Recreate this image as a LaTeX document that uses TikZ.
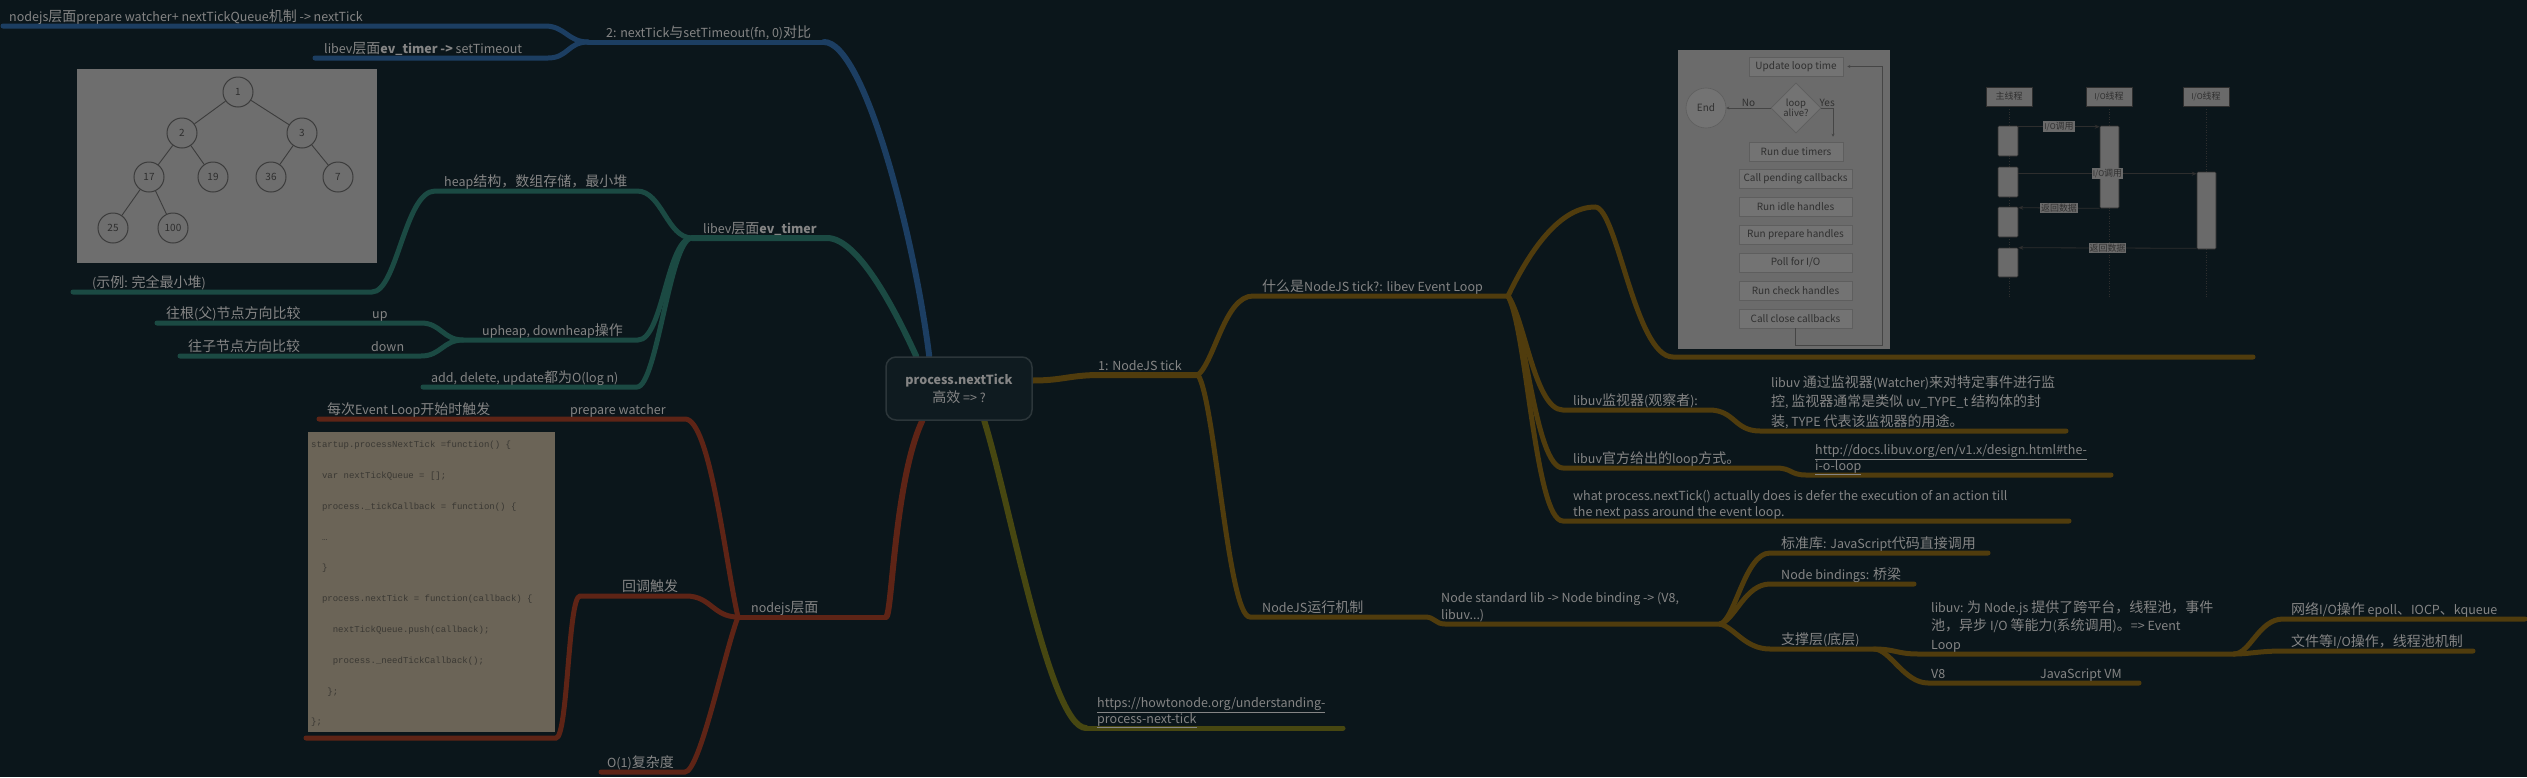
\documentclass[tikz,border=0pt]{standalone}
\usepackage{fontspec}
\setmainfont{Noto Sans CJK SC}
\newfontfamily\latfam{Noto Sans CJK SC}
\newfontfamily\cjkfam{Noto Sans CJK SC}[Scale=1.12]
\newfontfamily\codefont{Liberation Mono}
\usepackage{xcolor}
\usepackage{tikz}
\usetikzlibrary{arrows.meta,shapes.geometric,backgrounds}

% CJK glyphs a little larger than the Latin ones
\XeTeXinterchartokenstate=1
\newXeTeXintercharclass\cjkcls
\newcount\cjkcnt
\cjkcnt="4E00
\loop \XeTeXcharclass\cjkcnt=\cjkcls \ifnum\cjkcnt<"9FFF \advance\cjkcnt by 1 \repeat
\cjkcnt="3000
\loop \XeTeXcharclass\cjkcnt=\cjkcls \ifnum\cjkcnt<"303F \advance\cjkcnt by 1 \repeat
\cjkcnt="FF00
\loop \XeTeXcharclass\cjkcnt=\cjkcls \ifnum\cjkcnt<"FF5E \advance\cjkcnt by 1 \repeat
\XeTeXinterchartoks 0 \cjkcls = {\cjkfam}
\XeTeXinterchartoks \cjkcls 0 = {\latfam}
\XeTeXinterchartoks 4095 \cjkcls = {\cjkfam}
\XeTeXinterchartoks \cjkcls 4095 = {\latfam}

\definecolor{bgc}{HTML}{0B161B}
\definecolor{txtc}{HTML}{858585}
\definecolor{bluc}{HTML}{1C3E62}
\definecolor{teac}{HTML}{1B4A43}
\definecolor{gldc}{HTML}{503C0D}
\definecolor{redc}{HTML}{5E2416}
\definecolor{olvc}{HTML}{474711}
\definecolor{rootbg}{HTML}{0F1B20}
\definecolor{rootln}{HTML}{2C363A}
\definecolor{treebg}{HTML}{6E6E6E}
\definecolor{treeln}{HTML}{3C3C3C}
\definecolor{treetx}{HTML}{2E2E2E}
\definecolor{codebg}{HTML}{6B6457}
\definecolor{codetx}{HTML}{3A3833}
\definecolor{fcbg}{HTML}{6B6B6B}
\definecolor{fcfill}{HTML}{737373}
\definecolor{fcedge}{HTML}{5E5E5E}
\definecolor{fctx}{HTML}{303030}
\definecolor{fcln}{HTML}{454545}
\definecolor{sqfill}{HTML}{6A6A6A}
\definecolor{sqln}{HTML}{2E2E2E}

\begin{document}
\begin{tikzpicture}[x=1pt, y=-1pt,
  font=\fontsize{12.5}{16}\selectfont,
  topic/.style={anchor=south west, inner xsep=0pt, inner ysep=1.5pt, text depth=3pt,
                text=txtc, align=left},
  br/.style={line width=5pt, line cap=round},
  trunk/.style={line width=6pt, line cap=round},
  root/.style={rounded corners=10pt, draw=rootln, line width=1.5pt, fill=rootbg,
               minimum width=146pt, minimum height=63pt, align=center, text=txtc,
               font=\fontsize{12.5}{18}\selectfont},
  panel/.style={inner sep=0pt, draw=none},
  hnode/.style={circle, minimum size=30pt, inner sep=0pt, fill=treebg, draw=treeln,
                line width=1pt, text=treetx, font=\fontsize{10}{11}\selectfont},
  fcbox/.style={fill=fcfill, draw=fcedge, line width=0.6pt, minimum height=19pt,
                inner sep=0pt, text=fctx, font=\fontsize{10}{11}\selectfont},
  fclbl/.style={text=fctx, inner sep=1pt, font=\fontsize{10}{11}\selectfont},
  fclink/.style={draw=fcln, line width=0.7pt, -{Stealth[length=3pt,width=3pt]}},
  sqhead/.style={fill=sqfill, draw=sqln, line width=0.6pt, minimum width=46pt,
                 minimum height=19pt, inner sep=0pt, text=fctx,
                 font=\fontsize{8}{9}\selectfont},
  sqact/.style={fill=sqfill, draw=sqln, line width=0.6pt, minimum width=20pt,
                inner sep=0pt, rounded corners=1pt},
  sqmsg/.style={draw=sqln, line width=0.8pt, -{Stealth[length=5pt,width=4pt]}},
  sqlbl/.style={fill=sqfill, inner sep=1pt, text=fctx, font=\fontsize{8}{9}\selectfont},
  life/.style={draw=sqln, line width=0.6pt, dotted}
]
\useasboundingbox (0,0) rectangle (2527,777);

% centre
\node[root] (root) at (959,388.5) {\textbf{process.nextTick}\\高效 => ?};

% line ends
\coordinate (nxtA) at (3,26);    \coordinate (nxtB) at (545,26);
\coordinate (ltmA) at (315,58);  \coordinate (ltmB) at (548,58);
\coordinate (cmpA) at (588,42);  \coordinate (cmpB) at (824,42);
\coordinate (trA) at (73,292);   \coordinate (trB) at (372,292);
\coordinate (heapA) at (435,191); \coordinate (heapB) at (637,191);
\coordinate (upA) at (157,323);  \coordinate (upB) at (421,323);
\coordinate (dnA) at (180,356);  \coordinate (dnB) at (421,356);
\coordinate (opA) at (463,340);  \coordinate (opB) at (638,340);
\coordinate (adA) at (423,387);  \coordinate (adB) at (637,387);
\coordinate (evA) at (692,238);  \coordinate (evB) at (827,238);
\coordinate (evlA) at (319,419); \coordinate (pwB) at (685,419);
\coordinate (cbA) at (580,596);  \coordinate (cbB) at (686,596);
\coordinate (cdA) at (306,738);  \coordinate (cdB) at (556,738);
\coordinate (o1A) at (601,772);  \coordinate (o1B) at (685,772);
\coordinate (njA) at (738,617);  \coordinate (njB) at (886,617);
\coordinate (urA) at (1086,728); \coordinate (urB) at (1343,728);
\coordinate (tkA) at (1100,375); \coordinate (tkB) at (1198,375);
\coordinate (whA) at (1253,296); \coordinate (whB) at (1508,296);
\coordinate (hump) at (1595,207);
\coordinate (imgA) at (1673,357); \coordinate (imgB) at (2253,357);
\coordinate (wtA) at (1563,410); \coordinate (wtB) at (1709,410);
\coordinate (wdA) at (1760,431); \coordinate (wdB) at (2066,431);
\coordinate (lpA) at (1563,468); \coordinate (lpB) at (1776,468);
\coordinate (luA) at (1806,475); \coordinate (luB) at (2111,475);
\coordinate (wpA) at (1563,521); \coordinate (wpB) at (2069,521);
\coordinate (rnA) at (1250,617); \coordinate (rnB) at (1425,617);
\coordinate (nsA) at (1445,624); \coordinate (nsB) at (1720,624);
\coordinate (stA) at (1770,553); \coordinate (stB) at (1988,553);
\coordinate (nbA) at (1770,584); \coordinate (nbB) at (1914,584);
\coordinate (spA) at (1770,649); \coordinate (spB) at (1874,649);
\coordinate (uvA) at (1918,654); \coordinate (uvB) at (2234,654);
\coordinate (v8A) at (1928,683); \coordinate (v8B) at (2139,683);
\coordinate (neA) at (2283,619); \coordinate (neB) at (2525,619);
\coordinate (fiA) at (2283,651); \coordinate (fiB) at (2473,651);

\begin{scope}[on background layer]
  \fill[bgc] (0,0) rectangle (2527,777);
  % 2: nextTick vs setTimeout
  \draw[br,bluc] (nxtA) -- (nxtB) .. controls +(20,0) and +(-20,0) .. (cmpA);
  \draw[br,bluc] (ltmA) -- (ltmB) .. controls +(20,0) and +(-20,0) .. (cmpA);
  \draw[br,bluc] (cmpA) -- (cmpB);
  \draw[trunk,bluc] (cmpB) .. controls +(40,0) and +(-15,-120) .. ([xshift=44pt]root.north west);
  % libev ev_timer
  \draw[br,teac] (trA) -- (trB) .. controls +(25,0) and +(-30,0) .. (heapA) -- (heapB)
                 .. controls +(25,0) and +(-25,0) .. (evA);
  \draw[br,teac] (upA) -- (upB) .. controls +(20,0) and +(-20,0) .. (opA) -- (opB)
                 .. controls +(25,0) and +(-25,0) .. (evA);
  \draw[br,teac] (dnA) -- (dnB) .. controls +(20,0) and +(-20,0) .. (opA);
  \draw[br,teac] (adA) -- (adB) .. controls +(20,0) and +(-22,0) .. (evA);
  \draw[trunk,teac] (evA) -- (evB) .. controls +(33,0) and +(-17,-37) .. ([xshift=31pt]root.north west);
  % nodejs
  \draw[br,redc] (evlA) -- (pwB) .. controls +(25,0) and +(-13,-57) .. (njA);
  \draw[br,redc] (cdA) -- (cdB) .. controls +(12,0) and +(-12,0) .. (cbA) -- (cbB)
                 .. controls +(25,0) and +(-25,0) .. (njA);
  \draw[br,redc] (o1A) -- (o1B) .. controls +(15,0) and +(-13,33) .. (njA);
  \draw[br,redc] (njA) -- (njB);
  \draw[trunk,redc] (njB) .. controls +(6,0) and +(-28,60) .. ([xshift=37pt]root.south west);
  % link
  \draw[trunk,olvc] ([xshift=99pt]root.south west) .. controls +(25,80) and +(-36,0) .. (urA);
  \draw[br,olvc] (urA) -- (urB);
  % 1: NodeJS tick
  \draw[trunk,gldc] ([yshift=8pt]root.east) .. controls +(30,0) and +(-30,0) .. (tkA) -- (tkB);
  \draw[br,gldc] (tkB) .. controls +(17,-15) and +(-28,0) .. (whA) -- (whB);
  \draw[br,gldc] (tkB) .. controls +(17,25) and +(-22,0) .. (rnA) -- (rnB)
                 .. controls +(10,0) and +(-10,0) .. (nsA) -- (nsB);
  \draw[br,gldc] (whB) .. controls +(22,-46) and +(-35,0) .. (hump)
                 .. controls +(22,0) and +(-38,0) .. (imgA) -- (imgB);
  \draw[br,gldc] (whB) .. controls +(17,24) and +(-28,0) .. (wtA) -- (wtB)
                 .. controls +(26,0) and +(-26,0) .. (wdA) -- (wdB);
  \draw[br,gldc] (whB) .. controls +(17,24) and +(-28,0) .. (lpA) -- (lpB)
                 .. controls +(16,0) and +(-16,0) .. (luA) -- (luB);
  \draw[br,gldc] (whB) .. controls +(19,34) and +(-28,0) .. (wpA) -- (wpB);
  \draw[br,gldc] (nsB) .. controls +(15,-4) and +(-25,0) .. (stA) -- (stB);
  \draw[br,gldc] (nsB) .. controls +(15,-4) and +(-25,0) .. (nbA) -- (nbB);
  \draw[br,gldc] (nsB) .. controls +(15,4) and +(-25,0) .. (spA) -- (spB)
                 .. controls +(21,0) and +(-21,0) .. (uvA) -- (uvB);
  \draw[br,gldc] (spB) .. controls +(16,0) and +(-24,0) .. (v8A) -- (v8B);
  \draw[br,gldc] (uvB) .. controls +(16,0) and +(-24,0) .. (neA) -- (neB);
  \draw[br,gldc] (uvB) .. controls +(16,0) and +(-24,0) .. (fiA) -- (fiB);
\end{scope}

% heap picture
\node[panel, fill=treebg, minimum width=300pt, minimum height=194pt] (treepic) at (227,166) {};
\node[hnode] (h1) at (238,92) {1};
\node[hnode] (h2) at (182,133) {2};
\node[hnode] (h3) at (302,133) {3};
\node[hnode] (h17) at (149,177) {17};
\node[hnode] (h19) at (213,177) {19};
\node[hnode] (h36) at (271,177) {36};
\node[hnode] (h7) at (338,177) {7};
\node[hnode] (h25) at (113,228) {25};
\node[hnode] (h100) at (173,228) {100};
\draw[treeln, line width=0.9pt] (h1) -- (h2) (h1) -- (h3) (h2) -- (h17) (h2) -- (h19)
  (h3) -- (h36) (h3) -- (h7) (h17) -- (h25) (h17) -- (h100);

% code picture
\node[panel, fill=codebg, minimum width=247pt, minimum height=300pt] (codepic) at (431.5,582) {};
\node[anchor=north west, inner sep=0pt, align=left, text=codetx,
      font=\codefont\fontsize{9}{30.8}\selectfont] (code) at (311,441)
  {startup.processNextTick =function() \{\\
   \phantom{xx}var nextTickQueue = [];\\
   \phantom{xx}process.\_tickCallback = function() \{\\
   \phantom{xx}…\\
   \phantom{xx}\}\\
   \phantom{xx}process.nextTick = function(callback) \{\\
   \phantom{xxxx}nextTickQueue.push(callback);\\
   \phantom{xxxx}process.\_needTickCallback();\\
   \phantom{xxx}\};\\
   \};};

% event loop picture
\node[panel, fill=fcbg, minimum width=212pt, minimum height=299pt] (fcpic) at (1784,199.5) {};
\node[fcbox, minimum width=94pt] (ult) at (1796,66.5) {Update loop time};
\node[circle, fill=fcfill, draw=fcedge, line width=0.6pt, minimum size=40pt, inner sep=0pt,
      text=fctx, font=\fontsize{10}{11}\selectfont] (fend) at (1706,108) {End};
\node[diamond, fill=fcfill, draw=fcedge, line width=0.6pt, minimum width=50pt,
      minimum height=50pt, inner sep=0pt, align=center, text=fctx,
      font=\fontsize{9.5}{10.5}\selectfont] (alive) at (1796,108) {loop\\alive?};
\node[fcbox, minimum width=94pt] (due) at (1796,151.5) {Run due timers};
\node[fcbox, minimum width=113pt] (pend) at (1795.5,179) {Call pending callbacks};
\node[fcbox, minimum width=113pt] (idle) at (1795.5,207) {Run idle handles};
\node[fcbox, minimum width=113pt] (prep) at (1795.5,234.5) {Run prepare handles};
\node[fcbox, minimum width=113pt] (poll) at (1795.5,262.5) {Poll for I/O};
\node[fcbox, minimum width=113pt] (chk) at (1795.5,290.5) {Run check handles};
\node[fcbox, minimum width=113pt] (cls) at (1795.5,318.5) {Call close callbacks};
\draw[fclink] (alive.west) -- node[fclbl, above] {No} (fend.east);
\draw[fclink] (alive.east) -| node[fclbl, pos=0.25, above] {Yes} ([xshift=37pt,yshift=5pt]due.north);
\draw[fclink] (cls.south) -- ++(0,17) -| ([xshift=39pt]ult.east) -- ([xshift=4pt]ult.east);

% thread picture
\coordinate (sqend) at (0,297);
\node[sqhead] (th1) at (2009,96.5) {主线程};
\node[sqhead] (th2) at (2109,96.5) {I/O线程};
\node[sqhead] (th3) at (2206,96.5) {I/O线程};
\draw[life] (th1.south) -- (th1.south |- sqend);
\draw[life] (th2.south) -- (th2.south |- sqend);
\draw[life] (th3.south) -- (th3.south |- sqend);
\node[sqact, minimum height=30pt] (m1) at (2008,141) {};
\node[sqact, minimum height=30pt] (m2) at (2008,182) {};
\node[sqact, minimum height=30pt] (m3) at (2008,222) {};
\node[sqact, minimum height=29pt] (m4) at (2008,262.5) {};
\node[sqact, minimum width=19pt, minimum height=82pt] (io1) at (2109.5,167) {};
\node[sqact, minimum width=19pt, minimum height=77pt] (io2) at (2206.5,210.5) {};
\draw[sqmsg] ([yshift=-1pt]m1.north east) -- node[sqlbl] {I/O调用} ([yshift=-1pt]io1.north west);
\draw[sqmsg] ([yshift=-7pt]m2.north east) -- node[sqlbl] {I/O调用} ([yshift=-2pt]io2.north west);
\draw[sqmsg] (io1.south west) -- node[sqlbl] {返回数据} ([yshift=-1pt]m3.north east);
\draw[sqmsg] ([yshift=1pt]io2.south west) -- node[sqlbl] {返回数据} (m4.north east);

% texts
\node[topic] (nxt) at (9,26) {nodejs层面prepare watcher+ nextTickQueue机制 -> nextTick};
\node[topic] (ltm) at (324,58) {libev层面\textbf{ev\_timer ->} setTimeout};
\node[topic] (cmp) at (606,42) {2: nextTick与setTimeout(fn, 0)对比};
\node[topic] (cap) at (92,292) {(示例: 完全最小堆)};
\node[topic] (heap) at (444,191) {heap结构，数组存储，最小堆};
\node[topic] (upc) at (166,323) {往根(父)节点方向比较};
\node[topic] (up) at (372,323) {up};
\node[topic] (dnc) at (188,356) {往子节点方向比较};
\node[topic] (dn) at (371,356) {down};
\node[topic] (ops) at (482,340) {upheap, downheap操作};
\node[topic] (cplx) at (431,387) {add, delete, update都为O(log n)};
\node[topic] (ev) at (703,238) {libev层面\textbf{ev\_timer}};
\node[topic] (evl) at (327,419) {每次Event Loop开始时触发};
\node[topic] (pw) at (570,419) {prepare watcher};
\node[topic] (cbt) at (622,596) {回调触发};
\node[topic] (njs) at (751,617) {nodejs层面};
\node[topic] (o1) at (607,772) {O(1)复杂度};
\node[topic] (htn) at (1097,728) {\underline{https://howtonode.org/understanding-}\\\underline{process-next-tick}};
\node[topic] (tk) at (1098,375) {1: NodeJS tick};
\node[topic] (what) at (1262,296) {什么是NodeJS tick?: libev Event Loop};
\node[topic] (wtc) at (1573,410) {libuv监视器(观察者):};
\node[topic, font=\fontsize{12.5}{19.5}\selectfont] (wtd) at (1771,431)
  {libuv 通过监视器(Watcher)来对特定事件进行监\\控, 监视器通常是类似 uv\_TYPE\_t 结构体的封\\装, TYPE 代表该监视器的用途。};
\node[topic] (lpw) at (1573,468) {libuv官方给出的loop方式。};
\node[topic] (lpu) at (1815,475) {\underline{http://docs.libuv.org/en/v1.x/design.html\#the-}\\\underline{i-o-loop}};
\node[topic] (wpn) at (1573,521) {what process.nextTick() actually does is defer the execution of an action till\\the next pass around the event loop.};
\node[topic] (run) at (1262,617) {NodeJS运行机制};
\node[topic, font=\fontsize{12.5}{17}\selectfont] (nsl) at (1441,624) {Node standard lib -> Node binding -> (V8,\\libuv...)};
\node[topic] (stl) at (1781,553) {标准库: JavaScript代码直接调用};
\node[topic] (nbd) at (1781,584) {Node bindings: 桥梁};
\node[topic] (spl) at (1781,649) {支撑层(底层)};
\node[topic, font=\fontsize{12.5}{18.5}\selectfont] (uvl) at (1931,654)
  {libuv: 为 Node.js 提供了跨平台，线程池，事件\\池，异步 I/O 等能力(系统调用)。=> Event\\Loop};
\node[topic] (v8) at (1931,683) {V8};
\node[topic] (jvm) at (2040,683) {JavaScript VM};
\node[topic] (net) at (2291,619) {网络I/O操作 epoll、IOCP、kqueue};
\node[topic] (fio) at (2291,651) {文件等I/O操作，线程池机制};
\end{tikzpicture}
\end{document}
